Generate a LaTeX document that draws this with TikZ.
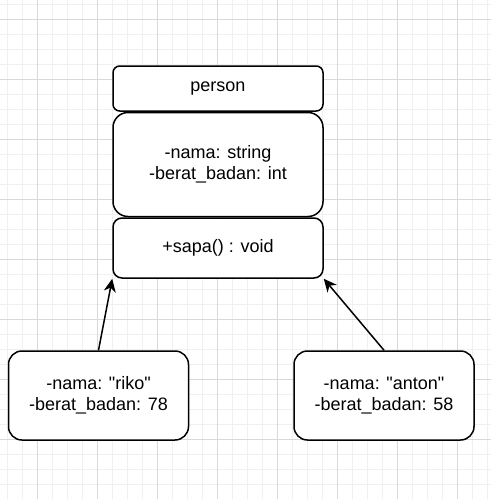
\documentclass[tikz,border=0pt]{standalone}
\usepackage{fontspec}
\setmainfont{Liberation Sans}[Ligatures=TeXOff]
\usepackage{tikz}
\usetikzlibrary{positioning}
\usetikzlibrary{arrows.meta}

\begin{document}
\begin{tikzpicture}[x=1pt, y=-1pt,
	box/.style={draw, line width=1.5pt, fill=white, inner sep=0pt, align=center, font=\fontsize{18}{21}\selectfont},
	minorline/.style={gray!12, line width=1pt},
	majorline/.style={gray!30, line width=1pt}]
\useasboundingbox (0,0) rectangle (491,499);
\fill[white] (0,0) rectangle (491,499);
\foreach \x in {7,22,...,487} \draw[minorline] (\x,0) -- (\x,499);
\foreach \y in {4,19,...,499} \draw[minorline] (0,\y) -- (491,\y);
\foreach \x in {37,97,...,457} \draw[majorline] (\x,0) -- (\x,499);
\foreach \y in {19,79,...,499} \draw[majorline] (0,\y) -- (491,\y);

\node[box, minimum width=210pt, minimum height=45pt, rounded corners=6.75pt] (head) at (218,88.5) {person};
\node[box, minimum width=210pt, minimum height=104pt, rounded corners=15pt, below=0pt of head] (attr) {-nama: string\\-berat\_badan: int};
\node[box, minimum width=210pt, minimum height=60pt, rounded corners=9pt, below=0pt of attr] (meth) {+sapa() : void};
\node[box, minimum width=180pt, minimum height=89pt, rounded corners=13.5pt] (riko) at (98.5,395.5) {-nama: "riko"\\-berat\_badan: 78};
\node[box, minimum width=180pt, minimum height=89pt, rounded corners=13.5pt] (anton) at (384,395.5) {-nama: "anton"\\-berat\_badan: 58};

\path[-{Stealth[length=13pt, width=12pt, inset=4pt]}, line width=1.5pt]
(riko.north) edge (meth.south west)
(anton.north) edge (meth.south east);
\end{tikzpicture}
\end{document}
